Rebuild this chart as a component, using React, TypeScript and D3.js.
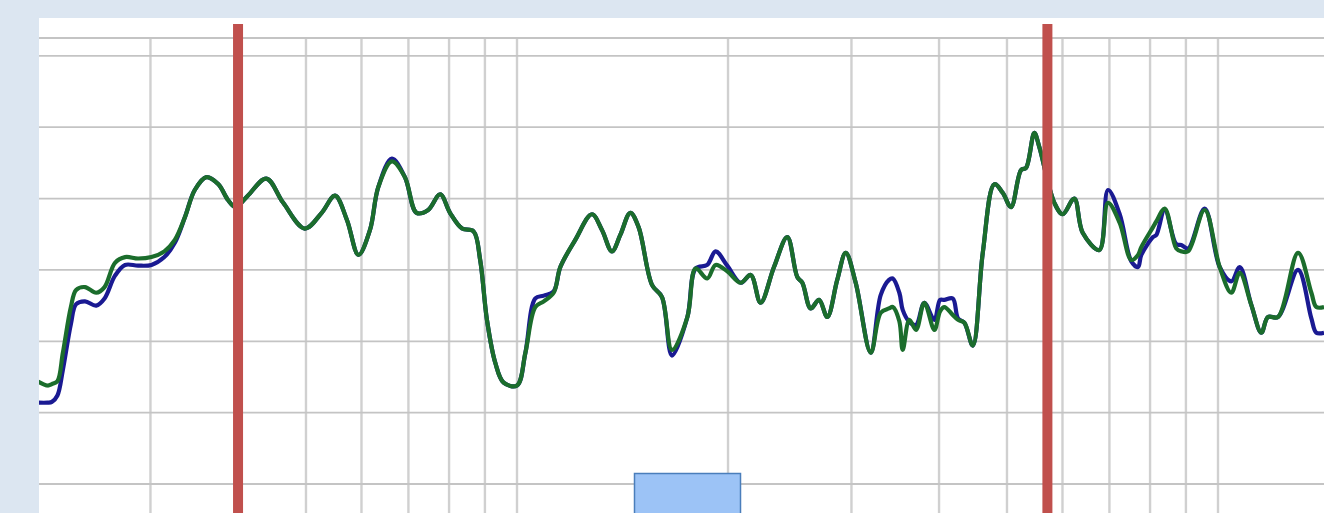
import React from "react";
import * as d3 from "d3";

// Frequency response: two measured traces on a log-frequency axis.
const freqs = [
  20.7, 21.4, 21.7, 22.1, 22.5, 23.1, 23.5, 24.2, 25.1, 25.8, 26.7, 27.6, 28.8, 30.1, 31.4, 32.5,
  33.6, 34.7, 36.05, 37.5, 38.7, 39.7, 41.3, 43.9, 46.4, 49.8, 52.65, 55.0, 57.2, 59.4, 61.7, 63.4,
  66.3, 69.2, 71.9, 74.7, 77.7, 80.25, 83.5, 86.7, 88.6, 90.6, 93.1, 95.7, 100, 102.8, 106.2, 109.2,
  112.8, 115.3, 121.1, 127.9, 132.2, 136.6, 140.4, 145.1, 149.1, 155.8, 161.0, 166.4, 175.0, 179.8,
  186.8, 192.0, 199.5, 208.5, 215.5, 222.6, 232.6, 243.0, 251.1, 255.3, 262.4, 269.7, 277.1, 286.3,
  294.4, 304.2, 319.6, 330.3, 339.4, 343.6, 351.1, 355.0, 362.8, 370.9, 381.1, 393.9, 401.3, 407.0,
  418.4, 425.8, 434.7, 446.9, 461.8, 479.7, 493.1, 506.7, 523.6, 532.3, 547.0, 556.1, 584.2, 600.5,
  623.7, 641.2, 677.2, 696.8, 724.1, 752.2, 769.0, 777.3, 807.8, 816.6, 839.5, 872.0, 886.4, 906.3,
  957.2, 1005.6, 1044.7, 1074, 1115.6, 1152.9, 1178.4, 1217.8, 1300.8, 1358.9, 1381.3, 1416.8,
];

const greenDb = [
  67.2, 66.9, 67.0, 67.2, 69.2, 72.4, 73.6, 73.8, 73.4, 73.8, 75.5, 75.9, 75.8, 75.9, 76.3, 77.1,
  78.7, 80.6, 81.5, 81.0, 79.9, 79.4, 80.2, 81.4, 79.7, 77.9, 79.0, 80.2, 78.5, 76.05, 77.8, 80.8,
  82.6, 81.5, 79.0, 79.2, 80.3, 79.0, 77.9, 77.7, 75.7, 71.5, 68.5, 67.1, 66.9, 69.2, 72.4, 72.8,
  73.4, 75.2, 77.1, 78.9, 77.8, 76.3, 77.45, 79.0, 78.0, 73.95, 73.1, 69.4, 71.7, 75.1,
  74.4, 75.35, 74.9, 74.1, 74.65, 72.7, 75.2, 77.3, 74.5, 74.1, 72.3, 72.9, 71.7, 74.3,
  76.2, 74.1, 69.2, 72.0, 72.3, 72.4, 71.4, 69.4, 71.5, 70.8, 72.7, 70.8, 72.1, 72.4,
  71.85, 71.5, 71.3, 69.7, 76.2, 81.0, 80.4, 79.4, 82.0, 82.15, 84.6, 83.6, 79.7, 78.9,
  80.0, 77.6, 76.4, 79.7, 78.3, 75.7, 76.05, 76.6, 78.0, 78.4, 79.3, 76.5, 76.3, 76.3,
  79.2, 75.2, 73.4, 74.8, 72.55, 70.6, 71.7, 71.7, 76.2, 73.4, 72.4, 72.4,
];

const blueDb = [
  65.7, 65.7, 65.75, 66.2, 68.0, 71.2, 72.6, 72.8, 72.5, 73.0, 74.6, 75.35, 75.3, 75.35, 75.9, 76.9,
  78.7, 80.6, 81.5, 81.0, 79.9, 79.4, 80.2, 81.4, 79.7, 77.9, 79.0, 80.2, 78.5, 76.05, 77.8, 80.8,
  82.8, 81.5, 79.0, 79.2, 80.3, 79.0, 77.9, 77.7, 75.7, 71.5, 68.5, 67.1, 66.9, 69.2, 73.0, 73.2,
  73.5, 75.2, 77.1, 78.9, 77.8, 76.3, 77.45, 79.0, 78.0, 73.95, 73.1, 69.0, 71.7, 75.1,
  75.35, 76.3, 75.3, 74.1, 74.65, 72.7, 75.2, 77.3, 74.5, 74.1, 72.3, 72.9, 71.7, 74.3,
  76.2, 74.1, 69.2, 73.25, 74.3, 74.4, 73.4, 72.2, 71.36, 71.15, 72.7, 71.5, 72.9, 72.9,
  73.0, 71.6, 71.3, 69.7, 76.2, 81.0, 80.4, 79.4, 82.0, 82.15, 84.6, 83.6, 79.7, 78.9,
  80.0, 77.6, 76.4, 80.6, 78.9, 75.6, 75.2, 76.05, 77.3, 77.45, 79.2, 76.8, 76.75, 76.5,
  79.3, 75.2, 74.2, 75.2, 72.55, 70.6, 71.7, 71.7, 75.0, 71.6, 70.6, 70.6,
];

// Gridline frequencies (Hz) and levels (dB)
const freqGrid = [30, 40, 50, 60, 70, 80, 90, 100, 200, 300, 400, 500, 600, 700, 800, 900, 1000];
const dbGrid = [60, 65, 70, 75, 80, 85, 90, 91.25];

// Vertical band markers (Hz)
const markerFreqs = [40, 571];

const W = 1324;
const H = 513;
const plotLeft = 39;
const plotTop = 18;
const gridTop = 38;

type Pt = { f: number; g: number; b: number };

export default function App() {
  const x = d3.scaleLog().domain([100, 1000]).range([517, 1218]);
  const y = d3.scaleLinear().domain([60, 91.25]).range([484, gridTop]);

  const points: Pt[] = freqs.map((f, i) => ({ f, g: greenDb[i], b: blueDb[i] }));

  const lineGreen = d3
    .line<Pt>()
    .x((d) => x(d.f))
    .y((d) => y(d.g))
    .curve(d3.curveCatmullRom.alpha(0.5));
  const lineBlue = d3
    .line<Pt>()
    .x((d) => x(d.f))
    .y((d) => y(d.b))
    .curve(d3.curveCatmullRom.alpha(0.5));

  return (
    <div style={{ position: "absolute", left: 0, top: 0, width: W, height: H, overflow: "hidden" }}>
      <svg width={W} height={H} style={{ display: "block" }}>
        <rect x={0} y={0} width={W} height={H} fill="#dce6f1" />
        <rect x={plotLeft} y={plotTop} width={W - plotLeft} height={H - plotTop} fill="#ffffff" />
        <defs>
          <clipPath id="plotClip">
            <rect x={plotLeft} y={plotTop} width={W - plotLeft} height={H - plotTop} />
          </clipPath>
        </defs>
        <g clipPath="url(#plotClip)">
          {freqGrid.map((f) => (
            <line
              key={"v" + f}
              x1={x(f)}
              x2={x(f)}
              y1={gridTop}
              y2={H}
              stroke="#d0d0d0"
              strokeWidth={2.4}
            />
          ))}
          {dbGrid.map((v) => (
            <line
              key={"h" + v}
              x1={plotLeft}
              x2={W}
              y1={y(v)}
              y2={y(v)}
              stroke="#c4c4c4"
              strokeWidth={1.8}
            />
          ))}
          <path d={lineBlue(points) ?? ""} fill="none" stroke="#1a1a92" strokeWidth={4.2} strokeLinejoin="round" />
          <path d={lineGreen(points) ?? ""} fill="none" stroke="#1b6d2c" strokeWidth={4.2} strokeLinejoin="round" />
          {markerFreqs.map((f) => (
            <rect key={"m" + f} x={x(f) - 5} y={24} width={10} height={H - 24} fill="#c0504d" />
          ))}
          <rect x={634.5} y={473.5} width={106} height={50} fill="#9cc3f6" stroke="#4a7ebb" strokeWidth={1.5} />
        </g>
      </svg>
    </div>
  );
}
